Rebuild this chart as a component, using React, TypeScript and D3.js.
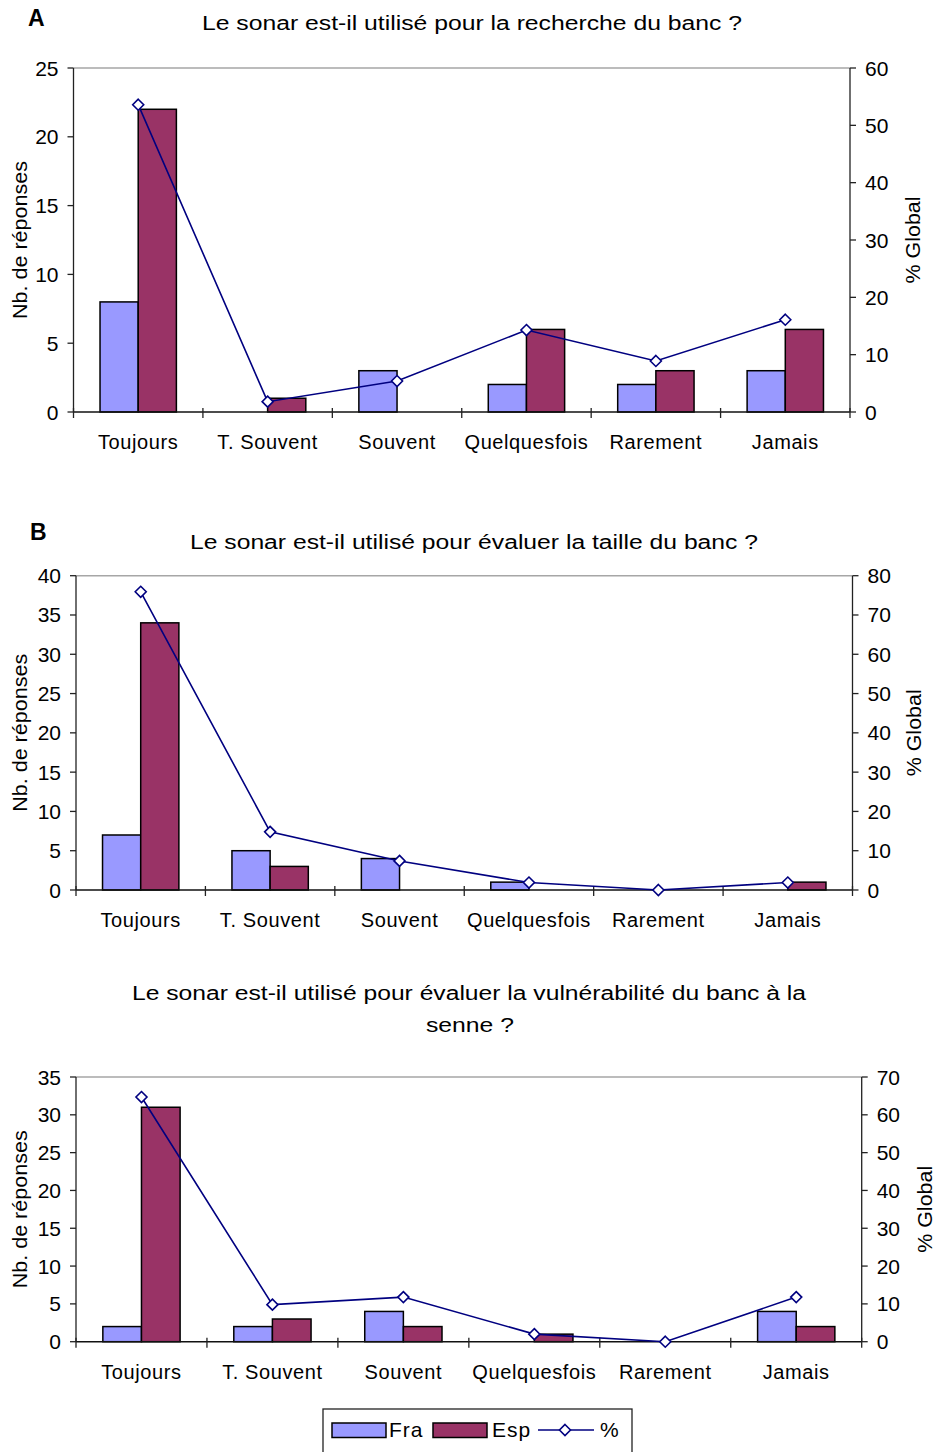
import React from "react";
import * as d3 from "d3";

const categories = ["Toujours", "T. Souvent", "Souvent", "Quelquesfois", "Rarement", "Jamais"];

const fraA = [8, 0, 3, 2, 2, 3];
const espA = [22, 1, 0, 6, 3, 6];
const pctA = [53.6, 1.8, 5.4, 14.3, 8.9, 16.1];

const fraB = [7, 5, 4, 1, 0, 0];
const espB = [34, 3, 0, 0, 0, 1];
const pctB = [75.9, 14.8, 7.4, 1.9, 0, 1.9];

const fraC = [2, 2, 4, 0, 0, 4];
const espC = [31, 3, 2, 1, 0, 2];
const pctC = [64.7, 9.8, 11.8, 2.0, 0, 11.8];

const titleA = "Le sonar est-il utilisé pour la recherche du banc ?";
const titleB = "Le sonar est-il utilisé pour évaluer la taille du banc ?";
const titleC1 = "Le sonar est-il utilisé pour évaluer la vulnérabilité du banc à la";
const titleC2 = "senne ?";

const leftLabel = "Nb. de réponses";
const rightLabel = "% Global";
const legendLabels = ["Fra", "Esp", "%"];

const FONT = "'Liberation Sans', Arial, sans-serif";
const FRA = "#9999FF";
const ESP = "#993366";
const LINE = "#000080";

type ChartProps = {
  L: number; R: number; T: number; B: number;
  maxL: number; maxR: number;
  fra: number[]; esp: number[]; pct: number[];
  rightLabelX: number;
};

function Diamond({ x, y, s = 5.5 }: { x: number; y: number; s?: number }) {
  return (
    <path
      d={`M${x},${y - s}L${x + s},${y}L${x},${y + s}L${x - s},${y}Z`}
      fill="#fff"
      stroke={LINE}
      strokeWidth={1.6}
    />
  );
}

function Chart({ L, R, T, B, maxL, maxR, fra, esp, pct, rightLabelX }: ChartProps) {
  const x = d3.scaleBand<string>().domain(categories).range([L, R]).padding(0);
  const yL = d3.scaleLinear().domain([0, maxL]).range([B, T]);
  const yR = d3.scaleLinear().domain([0, maxR]).range([B, T]);
  const bw = x.bandwidth() * 0.295;
  const ticksL = d3.range(0, maxL + 0.001, 5);
  const ticksR = d3.range(0, maxR + 0.001, 10);
  const cx = (c: string) => (x(c) as number) + x.bandwidth() / 2;
  const line = d3
    .line<number>()
    .x((_, i) => cx(categories[i]))
    .y((d) => yR(d));
  const boundaries = d3.range(0, categories.length + 1).map((i) => L + i * x.bandwidth());
  const midY = (T + B) / 2;
  return (
    <g fontFamily={FONT}>
      <line x1={L} x2={R} y1={T} y2={T} stroke="#a6a6a6" strokeWidth={1.5} />
      {categories.map((c, i) => (
        <g key={c}>
          {fra[i] > 0 && (
            <rect x={cx(c) - bw} y={yL(fra[i])} width={bw} height={B - yL(fra[i])}
              fill={FRA} stroke="#000" strokeWidth={1.5} />
          )}
          {esp[i] > 0 && (
            <rect x={cx(c)} y={yL(esp[i])} width={bw} height={B - yL(esp[i])}
              fill={ESP} stroke="#000" strokeWidth={1.5} />
          )}
        </g>
      ))}
      <line x1={L} x2={L} y1={T} y2={B} stroke="#222" strokeWidth={1.3} />
      <line x1={R} x2={R} y1={T} y2={B} stroke="#222" strokeWidth={1.3} />
      <line x1={L} x2={R} y1={B} y2={B} stroke="#111" strokeWidth={1.5} />
      {ticksL.map((t) => (
        <g key={"l" + t}>
          <line x1={L - 6} x2={L} y1={yL(t)} y2={yL(t)} stroke="#222" strokeWidth={1.3} />
          <text x={L - 15} y={yL(t)} textAnchor="end" dominantBaseline="central" fontSize={21}>{t}</text>
        </g>
      ))}
      {ticksR.map((t) => (
        <g key={"r" + t}>
          <line x1={R} x2={R + 6} y1={yR(t)} y2={yR(t)} stroke="#222" strokeWidth={1.3} />
          <text x={R + 15} y={yR(t)} textAnchor="start" dominantBaseline="central" fontSize={21}>{t}</text>
        </g>
      ))}
      {boundaries.map((bx, i) => (
        <line key={"b" + i} x1={bx} x2={bx} y1={B - 4} y2={B + 6} stroke="#222" strokeWidth={1.3} />
      ))}
      {categories.map((c) => (
        <text key={"c" + c} x={cx(c)} y={B + 30} textAnchor="middle" dominantBaseline="central"
          fontSize={20} letterSpacing={0.6}>{c}</text>
      ))}
      <text transform={`translate(20,${midY}) rotate(-90)`} textAnchor="middle" dominantBaseline="central"
        fontSize={20} textLength={158} lengthAdjust="spacingAndGlyphs">{leftLabel}</text>
      <text transform={`translate(${rightLabelX},${midY}) rotate(-90)`} textAnchor="middle" dominantBaseline="central"
        fontSize={20} textLength={87} lengthAdjust="spacingAndGlyphs">{rightLabel}</text>
      <path d={line(pct) || ""} fill="none" stroke={LINE} strokeWidth={1.6} />
      {pct.map((p, i) => (
        <Diamond key={"d" + i} x={cx(categories[i])} y={yR(p)} />
      ))}
    </g>
  );
}

export default function App() {
  return (
    <svg width={938} height={1452} style={{ position: "absolute", left: 0, top: 0, background: "#fff" }}
      fontFamily={FONT}>
      <rect x={0} y={0} width={938} height={1452} fill="#fff" />
      <text x={28} y={18} fontSize={23} fontWeight="bold" dominantBaseline="central">A</text>
      <text x={472} y={23} textAnchor="middle" dominantBaseline="central" fontSize={20}
        textLength={540} lengthAdjust="spacingAndGlyphs">{titleA}</text>
      <Chart L={73.5} R={850} T={68} B={412} maxL={25} maxR={60}
        fra={fraA} esp={espA} pct={pctA} rightLabelX={913} />
      <text x={30} y={532} fontSize={23} fontWeight="bold" dominantBaseline="central">B</text>
      <text x={474} y={542} textAnchor="middle" dominantBaseline="central" fontSize={20}
        textLength={568} lengthAdjust="spacingAndGlyphs">{titleB}</text>
      <Chart L={76} R={852.5} T={575.7} B={890} maxL={40} maxR={80}
        fra={fraB} esp={espB} pct={pctB} rightLabelX={914} />
      <text x={469} y={993} textAnchor="middle" dominantBaseline="central" fontSize={20}
        textLength={674} lengthAdjust="spacingAndGlyphs">{titleC1}</text>
      <text x={470} y={1025} textAnchor="middle" dominantBaseline="central" fontSize={20}
        textLength={88} lengthAdjust="spacingAndGlyphs">{titleC2}</text>
      <Chart L={76} R={861.7} T={1077} B={1341.7} maxL={35} maxR={70}
        fra={fraC} esp={espC} pct={pctC} rightLabelX={925} />
      <g fontFamily={FONT}>
        <rect x={323} y={1409} width={309} height={60} fill="#fff" stroke="#222" strokeWidth={1.3} />
        <rect x={332} y={1423} width={54} height={14.5} fill={FRA} stroke="#000" strokeWidth={1.5} />
        <text x={389} y={1429} dominantBaseline="central" fontSize={21} letterSpacing={1}>{legendLabels[0]}</text>
        <rect x={433} y={1423} width={54} height={14.5} fill={ESP} stroke="#000" strokeWidth={1.5} />
        <text x={492} y={1429} dominantBaseline="central" fontSize={21} letterSpacing={1}>{legendLabels[1]}</text>
        <line x1={538} x2={594} y1={1430} y2={1430} stroke={LINE} strokeWidth={1.6} />
        <Diamond x={565} y={1430} />
        <text x={600} y={1429} dominantBaseline="central" fontSize={21}>{legendLabels[2]}</text>
      </g>
    </svg>
  );
}
